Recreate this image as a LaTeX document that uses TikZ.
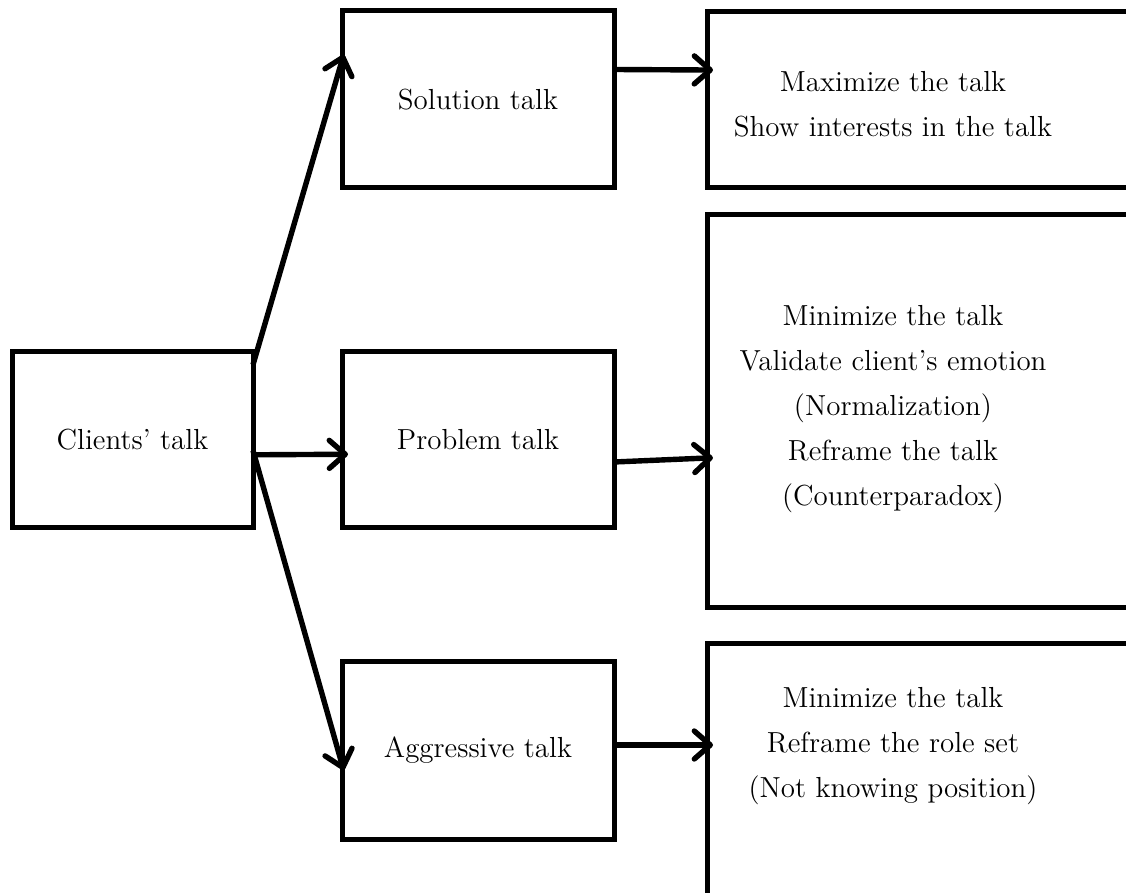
\documentclass[tikz,border=0pt]{standalone}
\usetikzlibrary{arrows.meta,calc}
\begin{document}
\begin{tikzpicture}[x=0.5pt,y=-0.5pt,
  box/.style={draw=black,line width=2.5pt,inner sep=0pt,outer sep=0pt,align=center,
    font=\fontsize{14.5}{22.5}\selectfont},
  txt/.style={align=center,font=\fontsize{14.5}{22.5}\selectfont},
  arr/.style={line width=2.7pt,shorten >=-3pt,-{Straight Barb[length=8pt,width=14pt,line cap=round,line join=round]}}]
\useasboundingbox (0,0) rectangle (1126,893);
\clip (0,0) rectangle (1126,893);
\node[box,minimum width=120.5pt,minimum height=88pt] (c) at (132.5,440) {Clients' talk};
\node[box,minimum width=136pt,minimum height=88.5pt] (s) at (478,99.5) {Solution talk};
\node[box,minimum width=136pt,minimum height=88pt] (p) at (478,440) {Problem talk};
\node[box,minimum width=136pt,minimum height=89pt] (a) at (478,750) {Aggressive talk};
\node[box,minimum width=216.5pt,minimum height=88pt] (r1) at (923.5,100) {};
\node[box,minimum width=216.5pt,minimum height=196pt] (r2) at (923.5,411) {};
\node[box,minimum width=216.5pt,minimum height=131pt] (r3) at (923.5,774) {};
\node[txt] (t1) at (893,104) {Maximize the talk\\Show interests in the talk};
\node[txt] (t2) at (893,409) {Minimize the talk\\Validate client's emotion\\(Normalization)\\Reframe the talk\\(Counterparadox)};
\node[txt] (t3) at (893,746) {Minimize the talk\\Reframe the role set\\(Not knowing position)};
\draw[arr] (c.32) -- (s.164);
\draw[arr] (c.-7) -- (p.186);
\draw[arr] (c.-5) -- (a.186);
\draw[arr] ($(s.east)+(0,-30)$) -- ($(r1.west)+(0,-30)$);
\draw[arr] ($(p.east)+(0,22)$) -- ($(r2.west)+(0,47)$);
\draw[arr] ($(a.east)+(0,-5)$) -- ($(r3.west)+(0,-29)$);
\end{tikzpicture}
\end{document}
